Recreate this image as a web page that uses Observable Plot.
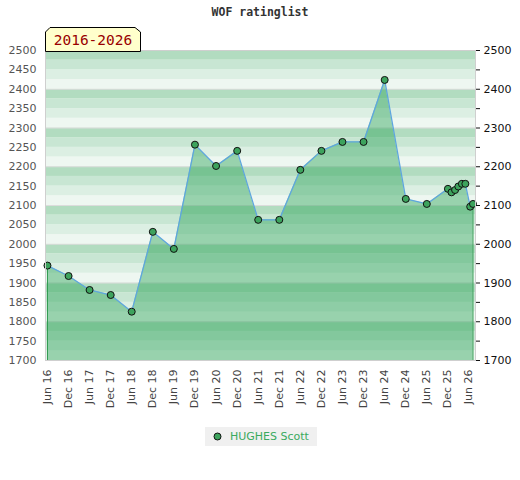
<!DOCTYPE html>
<html>
<head>
<meta charset="utf-8">
<script src="https://cdn.jsdelivr.net/npm/d3@7"></script>
<script src="https://cdn.jsdelivr.net/npm/@observablehq/plot@0.6"></script>
<style>
  body { margin: 0; background: #fff; }
  #wrap { position: relative; width: 520px; height: 480px; font-family: "DejaVu Sans", sans-serif; }
  #title { position: absolute; top: 5px; left: 0; width: 520px; text-align: center; font-family: "DejaVu Sans Mono", monospace; font-weight: bold; font-size: 11.5px; color: #333; }
  #badge { position: absolute; left: 45px; top: 27px; }
  #chart { position: absolute; left: 0; top: 0; }
  #legend { position: absolute; top: 427px; left: 205px; width: 112px; height: 19px; background: #f0f0f0; font-size: 11px; color: #3aaa5e; }
  #legend svg { position: absolute; left: 8px; top: 5px; }
  #legend span { position: absolute; left: 25px; top: 3px; }
</style>
</head>
<body>
<div id="wrap">
  <div id="chart"></div>
  <div id="title">WOF ratinglist</div>
  <svg id="badge" width="97" height="25">
    <polygon points="0.5,24.5 0.5,5 5,0.5 90,0.5 95.5,5 95.5,24.5" fill="#ffffcc" stroke="#000" stroke-width="1"/>
    <text x="48" y="18" text-anchor="middle" font-family="DejaVu Sans Mono, monospace" font-size="14.5px" fill="#990000">2016-2026</text>
  </svg>
  <div id="legend">
    <svg width="9" height="9"><circle cx="4.5" cy="4.5" r="3.5" fill="#3da35d" stroke="#111" stroke-width="1"/></svg>
    <span>HUGHES Scott</span>
  </div>
</div>
<script>
const dates = ["2016-06-01","2016-12-01","2017-06-01","2017-12-01","2018-06-01","2018-12-01",
  "2019-06-01","2019-12-01","2020-06-01","2020-12-01","2021-06-01","2021-12-01",
  "2022-06-01","2022-12-01","2023-06-01","2023-12-01","2024-06-01","2024-12-01",
  "2025-06-01","2025-12-01","2026-01-01","2026-02-01","2026-03-01","2026-04-01",
  "2026-05-01","2026-06-12","2026-07-06"];
const ratings = [1945,1918,1882,1869,1826,2032,1988,2257,2202,2241,2063,2063,
  2192,2241,2264,2264,2424,2117,2104,2143,2134,2140,2149,2156,2156,2097,2104];
const xTickDates = ["2016-06-01","2016-12-01","2017-06-01","2017-12-01","2018-06-01","2018-12-01",
  "2019-06-01","2019-12-01","2020-06-01","2020-12-01","2021-06-01","2021-12-01",
  "2022-06-01","2022-12-01","2023-06-01","2023-12-01","2024-06-01","2024-12-01",
  "2025-06-01","2025-12-01","2026-06-01"];
const leftTicks = [1700,1750,1800,1850,1900,1950,2000,2050,2100,2150,2200,2250,2300,2350,2400,2450,2500];
const rightTicks = [1700,1800,1900,2000,2100,2200,2300,2400,2500];
const playerName = "HUGHES Scott";

const data = dates.map((d, i) => ({date: new Date(d), rating: ratings[i]}));
const ends = [data[0], data[data.length - 1]];
const stripeColors = ["#eef7f1", "#dcefe3", "#c8e6d3", "#b2dcc0"];
const stripes = d3.range(1700, 2500, 25).map(v => ({y1: v, y2: v + 25, k: ((v % 100) / 25)}));

const plot = Plot.plot({
  width: 520,
  height: 420,
  marginTop: 50,
  marginBottom: 60,
  marginLeft: 45,
  marginRight: 45,
  style: {fontFamily: "DejaVu Sans", fontSize: "11px", background: "transparent"},
  x: {type: "utc", domain: [new Date("2016-05-15"), new Date("2026-07-28")]},
  y: {domain: [1700, 2500]},
  marks: [
    Plot.rect(stripes, {y1: "y1", y2: "y2", fill: d => stripeColors[d.k], inset: 0}),
    Plot.ruleY(rightTicks, {stroke: "#dcdcdc", strokeWidth: 1}),
    Plot.areaY(data, {x: "date", y1: 1700, y2: "rating", fill: "#2fa45b", fillOpacity: 0.45}),
    Plot.ruleX(ends, {x: "date", y1: 1700, y2: "rating", stroke: "#2e9a4f", strokeWidth: 1}),
    Plot.lineY(data, {x: "date", y: "rating", stroke: "#5ea6de", strokeWidth: 1.3}),
    Plot.dot(data, {x: "date", y: "rating", r: 3.5, fill: "#3da35d", stroke: "#111", strokeWidth: 1}),
    Plot.frame({stroke: "#cfcfcf"}),
    Plot.axisY({anchor: "left", ticks: leftTicks, tickFormat: d => String(d), tickSize: 0, tickPadding: 9, color: "#555", label: null}),
    Plot.axisY({anchor: "right", ticks: leftTicks, tickFormat: d => rightTicks.includes(d) ? String(d) : "", tickSize: 4, tickPadding: 4, color: "#111", label: null}),
    Plot.axisX({ticks: xTickDates.map(d => new Date(d)), tickFormat: d3.utcFormat("%b %y"), tickRotate: -90, tickSize: 0, tickPadding: 9, color: "#444", label: null})
  ]
});
document.getElementById("chart").appendChild(plot);
document.querySelector("#legend span").textContent = playerName;
</script>
</body>
</html>
